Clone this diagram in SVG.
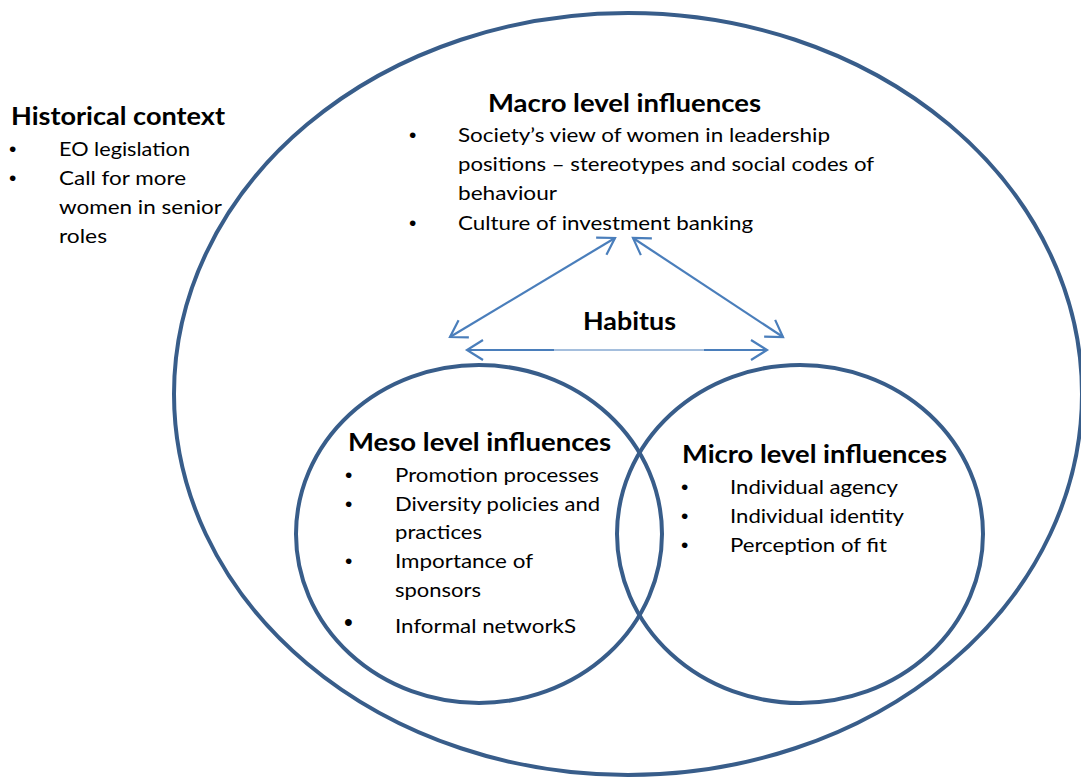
<svg xmlns="http://www.w3.org/2000/svg" width="1081" height="778" viewBox="0 0 1081 778">
<style>
.ring{fill:none;stroke:#385D8A;stroke-width:4}
.arr{fill:none;stroke:#4A7EBB;stroke-width:2.2}
.thin{fill:none;stroke:#4A7EBB;stroke-width:1}
.h{font-family:Lato,"Liberation Sans",sans-serif;font-weight:bold;font-size:24px;fill:#000}
.t{font-family:Lato,"Liberation Sans",sans-serif;font-size:20px;fill:#000}
.b{font-family:"Liberation Sans",sans-serif;font-size:21px;fill:#000}
</style>
<defs>
<marker id="ah" markerUnits="userSpaceOnUse" markerWidth="40" markerHeight="40" viewBox="-20 -20 40 40" refX="0" refY="0" orient="auto-start-reverse">
<path d="M-16,-10 L0,0 L-16,10" fill="none" stroke="#4A7EBB" stroke-width="2.2"/>
</marker>
</defs>
<rect width="1081" height="778" fill="#fff"/>
<g id="macro">
<ellipse class="ring" cx="628" cy="394" rx="454" ry="381"/>
<text class="h" x="488" y="112" textLength="273" lengthAdjust="spacingAndGlyphs">Macro level influences</text>
<text class="b" x="409" y="142">•</text>
<text class="t" x="458" y="142" textLength="372" lengthAdjust="spacingAndGlyphs">Society’s view of women in leadership</text>
<text class="t" x="458" y="171" textLength="416" lengthAdjust="spacingAndGlyphs">positions – stereotypes and social codes of</text>
<text class="t" x="458" y="200" textLength="99" lengthAdjust="spacingAndGlyphs">behaviour</text>
<text class="b" x="409" y="230">•</text>
<text class="t" x="458" y="230" textLength="295" lengthAdjust="spacingAndGlyphs">Culture of investment banking</text>
</g>
<g id="historical">
<text class="h" x="11" y="125" textLength="214" lengthAdjust="spacingAndGlyphs">Historical context</text>
<text class="b" x="9" y="156">•</text>
<text class="t" x="59" y="156" textLength="131" lengthAdjust="spacingAndGlyphs">EO legislation</text>
<text class="b" x="9" y="185">•</text>
<text class="t" x="59" y="185" textLength="127" lengthAdjust="spacingAndGlyphs">Call for more</text>
<text class="t" x="59" y="214" textLength="163" lengthAdjust="spacingAndGlyphs">women in senior</text>
<text class="t" x="59" y="243" textLength="48" lengthAdjust="spacingAndGlyphs">roles</text>
</g>
<g id="meso">
<ellipse class="ring" cx="479" cy="534" rx="183" ry="169"/>
<text class="h" x="348" y="451" textLength="263" lengthAdjust="spacingAndGlyphs">Meso level influences</text>
<text class="b" x="345" y="482">•</text>
<text class="t" x="395" y="482" textLength="204" lengthAdjust="spacingAndGlyphs">Promotion processes</text>
<text class="b" x="345" y="511">•</text>
<text class="t" x="395" y="511" textLength="205" lengthAdjust="spacingAndGlyphs">Diversity policies and</text>
<text class="t" x="395" y="539" textLength="87" lengthAdjust="spacingAndGlyphs">practices</text>
<text class="b" x="345" y="568">•</text>
<text class="t" x="395" y="568" textLength="138" lengthAdjust="spacingAndGlyphs">Importance of</text>
<text class="t" x="395" y="597" textLength="86" lengthAdjust="spacingAndGlyphs">sponsors</text>
<text class="b" x="344" y="631" style="font-size:25px">•</text>
<text class="t" x="395" y="633" textLength="181" lengthAdjust="spacingAndGlyphs">Informal networkS</text>
</g>
<g id="micro">
<ellipse class="ring" cx="800" cy="534" rx="183" ry="169"/>
<text class="h" x="682" y="463" textLength="265" lengthAdjust="spacingAndGlyphs">Micro level influences</text>
<text class="b" x="681" y="494">•</text>
<text class="t" x="730" y="494" textLength="168" lengthAdjust="spacingAndGlyphs">Individual agency</text>
<text class="b" x="681" y="523">•</text>
<text class="t" x="730" y="523" textLength="174" lengthAdjust="spacingAndGlyphs">Individual identity</text>
<text class="b" x="681" y="552">•</text>
<text class="t" x="730" y="552" textLength="157" lengthAdjust="spacingAndGlyphs">Perception of fit</text>
</g>
<g id="habitus">
<text class="h" x="583" y="330" textLength="93" lengthAdjust="spacingAndGlyphs">Habitus</text>
</g>
<g id="connectors">
<path class="arr" d="M450,337 L615,238" marker-start="url(#ah)" marker-end="url(#ah)"/>
<path class="arr" d="M633,238 L783,337" marker-start="url(#ah)" marker-end="url(#ah)"/>
<path class="arr" d="M554,350 L467,350" marker-end="url(#ah)"/>
<path class="thin" d="M554,350 L704,350"/>
<path class="arr" d="M704,350 L767,350" marker-end="url(#ah)"/>
</g>
</svg>
